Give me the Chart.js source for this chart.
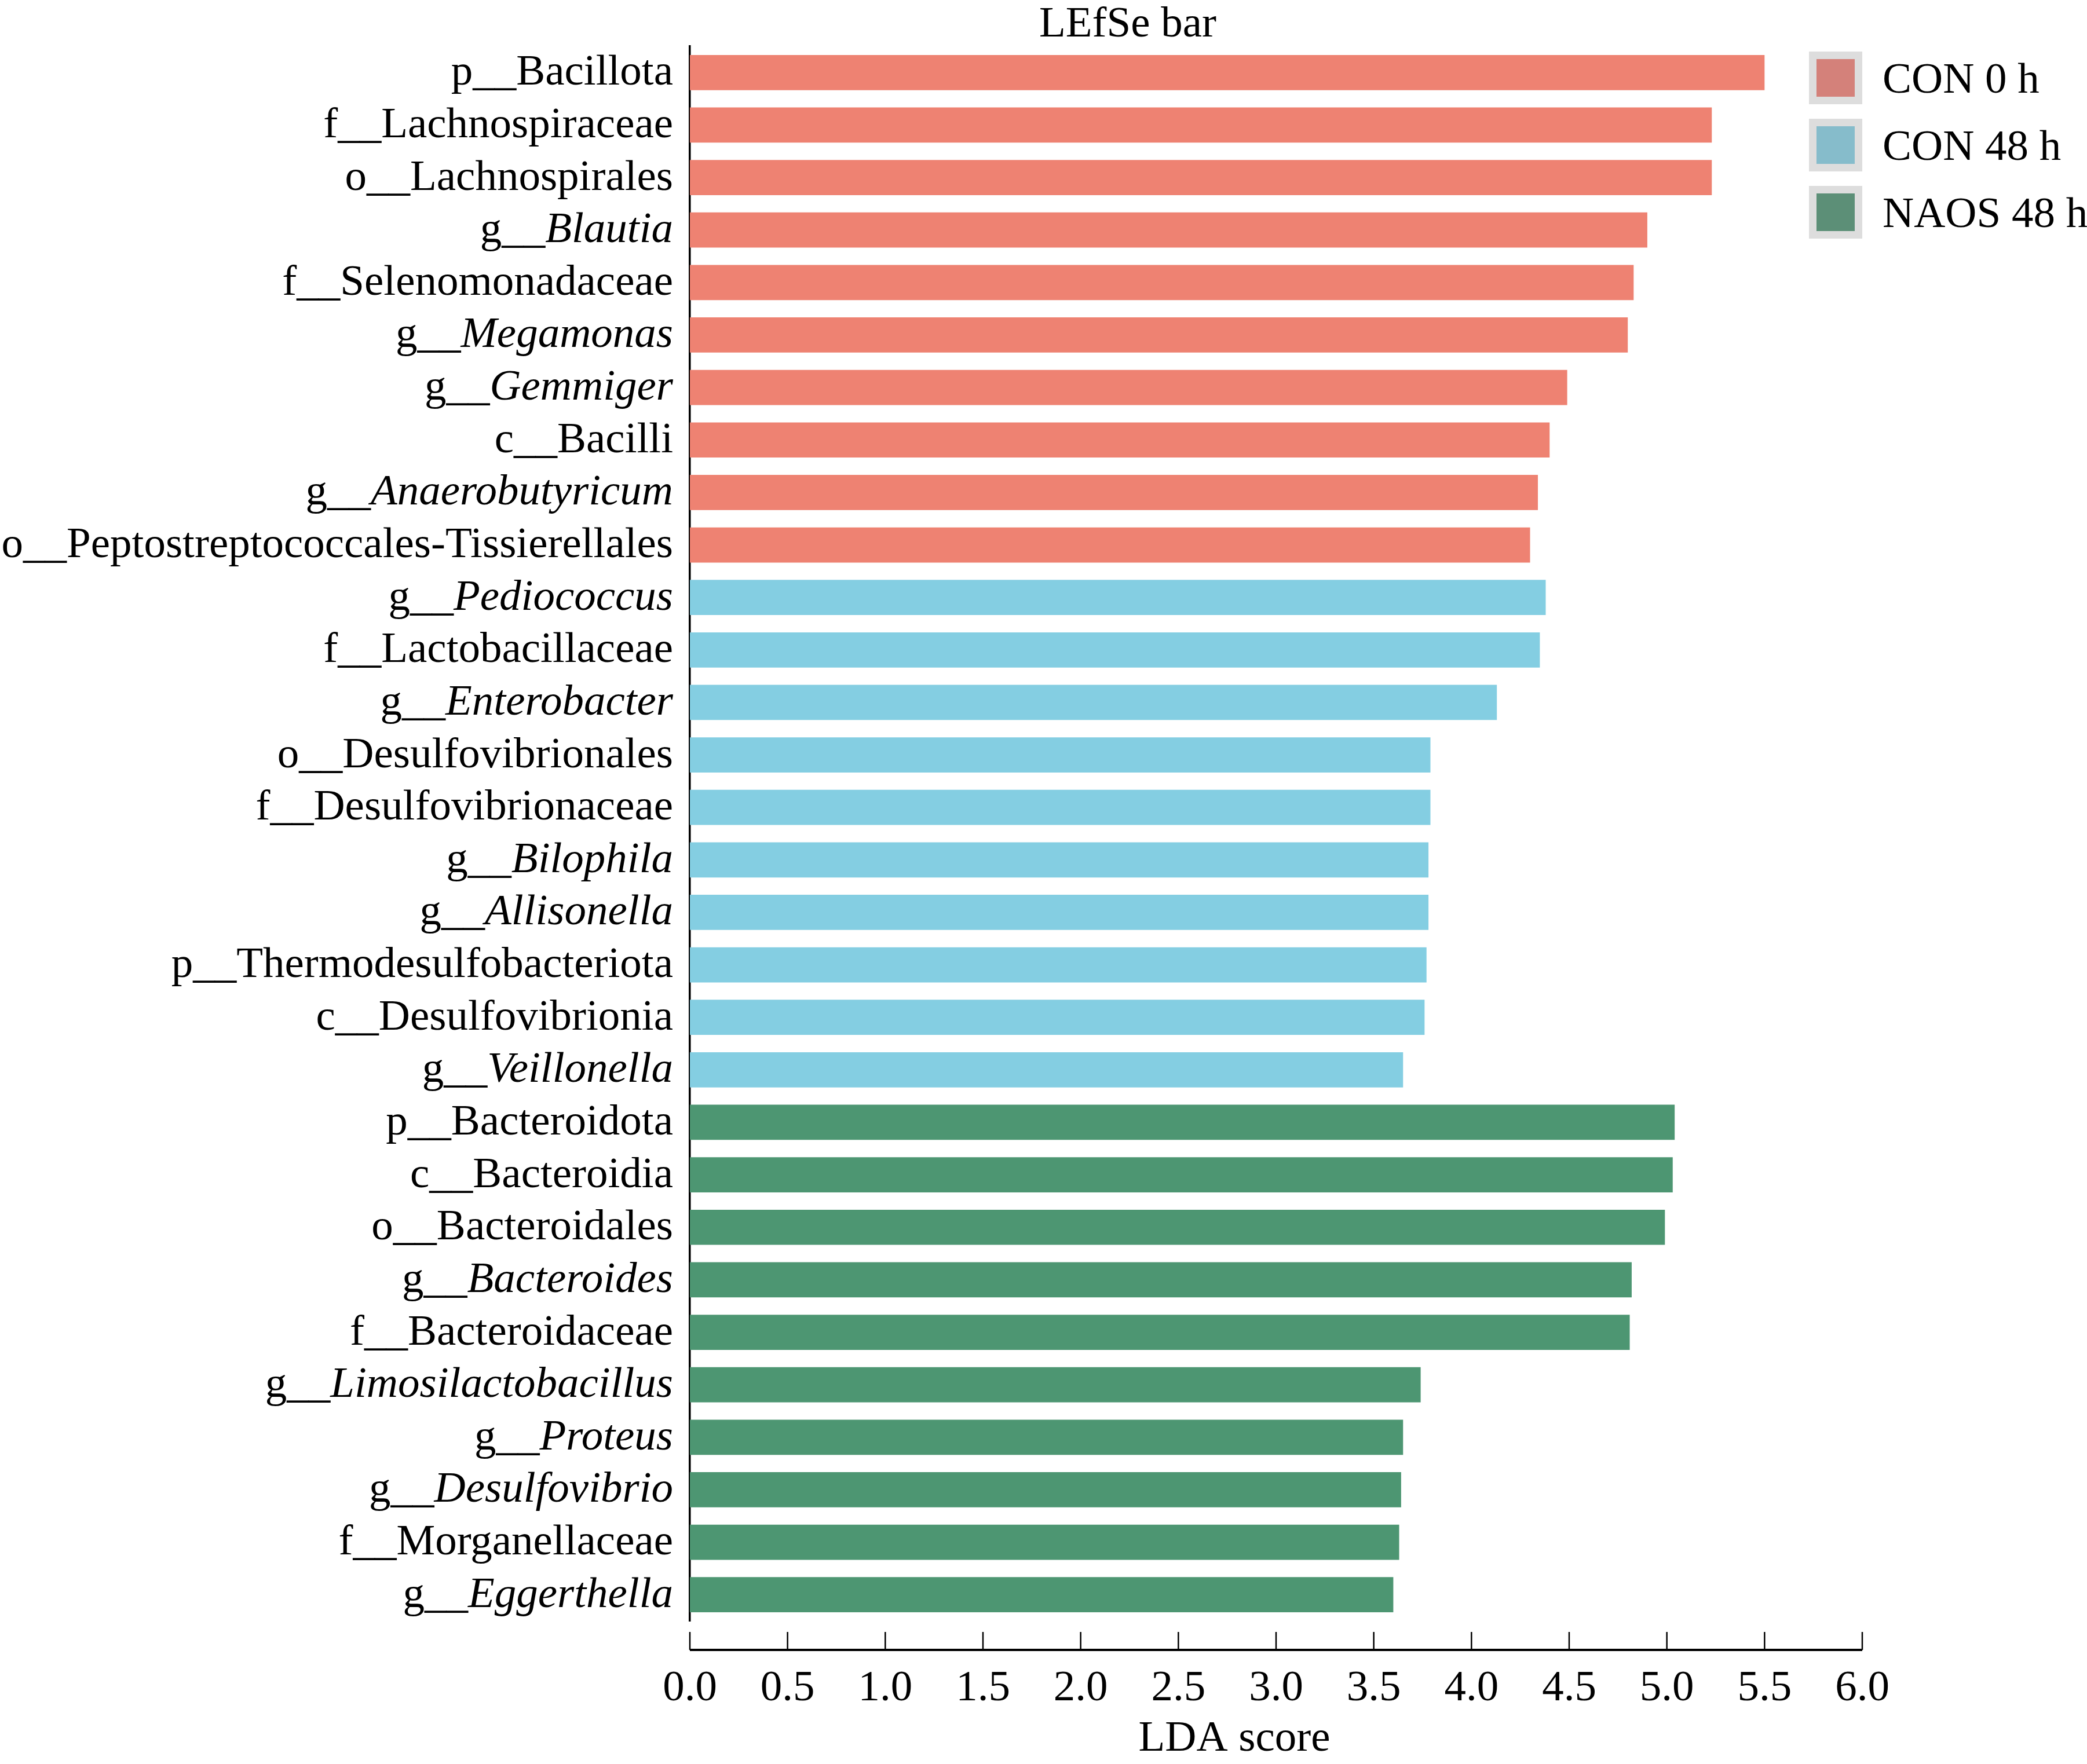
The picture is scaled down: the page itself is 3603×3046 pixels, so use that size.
<!DOCTYPE html>
<html>
<head>
<meta charset="utf-8">
<title>LEfSe bar</title>
<script src="https://cdn.jsdelivr.net/npm/chart.js@4/dist/chart.umd.min.js"></script>
<style>
  html, body { margin: 0; padding: 0; background: #ffffff; }
  #grafico { display: block; }
</style>
</head>
<body>
<canvas id="grafico" width="3603" height="3046"></canvas>
<script>
const taxa = [
    'p__Bacillota', 'f__Lachnospiraceae', 'o__Lachnospirales', 'g__Blautia',
    'f__Selenomonadaceae', 'g__Megamonas', 'g__Gemmiger', 'c__Bacilli',
    'g__Anaerobutyricum', 'o__Peptostreptococcales-Tissierellales',
    'g__Pediococcus', 'f__Lactobacillaceae', 'g__Enterobacter', 'o__Desulfovibrionales',
    'f__Desulfovibrionaceae', 'g__Bilophila', 'g__Allisonella', 'p__Thermodesulfobacteriota',
    'c__Desulfovibrionia', 'g__Veillonella',
    'p__Bacteroidota', 'c__Bacteroidia', 'o__Bacteroidales', 'g__Bacteroides',
    'f__Bacteroidaceae', 'g__Limosilactobacillus', 'g__Proteus', 'g__Desulfovibrio',
    'f__Morganellaceae', 'g__Eggerthella'
];

const ldaScores = [
    5.50, 5.23, 5.23, 4.90, 4.83, 4.80, 4.49, 4.40, 4.34, 4.30,
    4.38, 4.35, 4.13, 3.79, 3.79, 3.78, 3.78, 3.77, 3.76, 3.65,
    5.04, 5.03, 4.99, 4.82, 4.81, 3.74, 3.65, 3.64, 3.63, 3.60
];

const groupNames = ['CON 0 h', 'CON 48 h', 'NAOS 48 h'];
const taxonGroup = [
    0, 0, 0, 0, 0, 0, 0, 0, 0, 0,
    1, 1, 1, 1, 1, 1, 1, 1, 1, 1,
    2, 2, 2, 2, 2, 2, 2, 2, 2, 2
];
const barColors = ['#ee8272', '#84cee2', '#4d9672'];
const legendColors = ['#d4817a', '#86bccb', '#5c8f77'];

const xTicks = [0, 0.5, 1, 1.5, 2, 2.5, 3, 3.5, 4, 4.5, 5, 5.5, 6];

const fuente = "'Liberation Serif', 'Times New Roman', serif";

// etiquetas del eje y: prefijo normal, genero en cursiva
const etiquetasPlugin = {
    id: 'etiquetas',
    afterDraw(chart) {
        const c = chart.ctx;
        const y = chart.scales.y;
        const area = chart.chartArea;
        c.save();
        c.fillStyle = '#000';
        c.textBaseline = 'alphabetic';
        c.textAlign = 'left';
        taxa.forEach(function(t, i) {
            const py = y.getPixelForValue(i) + 21;
            const prefijo = t.slice(0, 3);
            const nombre = t.slice(3);
            const esGenero = prefijo === 'g__';
            c.font = (esGenero ? 'italic ' : '') + '75px ' + fuente;
            const wNombre = c.measureText(nombre).width;
            c.font = '75px ' + fuente;
            const wPref = c.measureText(prefijo).width;
            const derecha = area.left - 29;
            c.fillText(prefijo, derecha - wNombre - wPref, py);
            c.font = (esGenero ? 'italic ' : '') + '75px ' + fuente;
            c.fillText(nombre, derecha - wNombre, py);
        });
        c.restore();
    }
};

// eje x separado con marcas hacia arriba, titulos y leyenda
const ejesPlugin = {
    id: 'ejes',
    afterDraw(chart) {
        const c = chart.ctx;
        const x = chart.scales.x;
        const area = chart.chartArea;
        const ejeY = area.bottom + 50;
        c.save();
        c.strokeStyle = '#000';
        c.lineWidth = 4;
        c.beginPath();
        c.moveTo(x.getPixelForValue(0), ejeY);
        c.lineTo(x.getPixelForValue(6), ejeY);
        c.stroke();
        c.lineWidth = 2.5;
        xTicks.forEach(function(v) {
            const px = x.getPixelForValue(v);
            c.beginPath();
            c.moveTo(px, ejeY);
            c.lineTo(px, ejeY - 31);
            c.stroke();
        });

        c.fillStyle = '#000';
        c.font = '75px ' + fuente;
        c.textAlign = 'center';
        c.textBaseline = 'alphabetic';
        c.fillText('LEfSe bar', 1947, 63);
        c.fillText('LDA score', 2131, 3023);

        const derecha = area.right;
        groupNames.forEach(function(g, i) {
            const top = area.top + 9 + i * 116;
            c.fillStyle = '#dddddd';
            c.fillRect(derecha - 92, top, 92, 91);
            c.fillStyle = legendColors[i];
            c.fillRect(derecha - 79, top + 13, 66, 65);
            c.fillStyle = '#000';
            c.textAlign = 'left';
            c.fillText(g, derecha + 35, top + 71);
        });
        c.restore();
    }
};

const ctx = document.getElementById('grafico').getContext('2d');

const grafico = new Chart(ctx, {
    type: 'bar',
    data: {
        labels: taxa,
        datasets: [{
            label: 'LDA score',
            data: ldaScores,
            backgroundColor: taxonGroup.map(function(g) { return barColors[g]; }),
            borderWidth: 0,
            barPercentage: 0.67,
            categoryPercentage: 1.0
        }]
    },
    options: {
        indexAxis: 'y',
        responsive: false,
        devicePixelRatio: 1,
        animation: false,
        layout: {
            padding: { left: 1183, right: 388, top: 80, bottom: 0 }
        },
        plugins: {
            legend: { display: false },
            title: { display: false },
            tooltip: { enabled: false }
        },
        scales: {
            x: {
                type: 'linear',
                position: 'bottom',
                min: 0,
                max: 6,
                grid: { display: false },
                border: { display: false },
                afterFit: function(scale) { scale.height = 247; },
                ticks: {
                    stepSize: 0.5,
                    padding: 64,
                    color: '#000',
                    maxRotation: 0,
                    autoSkip: false,
                    font: { family: fuente, size: 75 },
                    callback: function(v) { return v.toFixed(1); }
                }
            },
            y: {
                type: 'category',
                grid: { display: false },
                border: { display: true, color: '#000', width: 3.5 },
                ticks: { display: false }
            }
        }
    },
    plugins: [etiquetasPlugin, ejesPlugin]
});
</script>
</body>
</html>
